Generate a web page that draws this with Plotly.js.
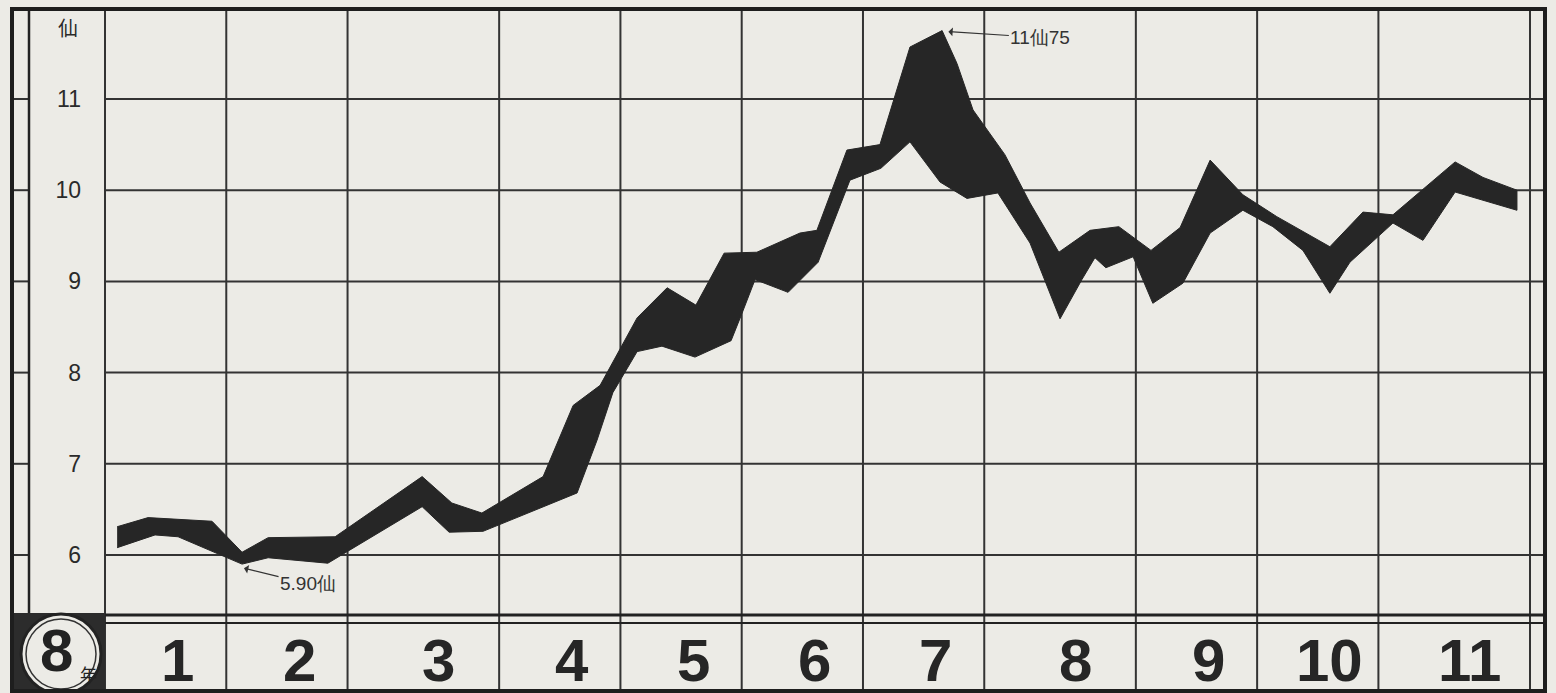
<!DOCTYPE html>
<html>
<head>
<meta charset="utf-8">
<script src="https://cdn.plot.ly/plotly-3.0.1.min.js"></script>
<style>
html,body{margin:0;padding:0;background:#ecebe6;}
#chart{width:1556px;height:693px;}
</style>
</head>
<body>
<div id="chart"></div>
<script>
// ---- data (x in weeks from start of month 1, y in 仙) ----
const months = ['1','2','3','4','5','6','7','8','9','10','11'];
const weeksPerMonth = [4,4,5,4,4,4,4,5,4,4,5];
const yTicks = [6,7,8,9,10,11];
const yTickText = ['6','7','8','9','10','11'];
const yUnit = '仙';
const yearLabel = '8';
const yearSuffix = '年';

const upperX = [0.40,1.42,3.53,4.52,5.38,7.59,10.46,11.44,12.43,14.45,15.44,16.33,17.55,18.54,19.49,20.42,21.50,22.92,23.48,24.47,25.56,26.55,27.61,28.10,28.63,29.68,30.51,31.46,32.49,33.44,34.50,35.46,36.45,37.53,38.65,40.40,41.49,42.48,44.53,45.45,46.57];
const upperY = [6.31,6.41,6.37,6.03,6.19,6.20,6.86,6.57,6.46,6.86,7.64,7.86,8.60,8.93,8.74,9.31,9.32,9.53,9.56,10.44,10.50,11.57,11.75,11.39,10.88,10.39,9.86,9.32,9.56,9.60,9.34,9.59,10.33,9.95,9.71,9.38,9.76,9.73,10.31,10.14,10.00];

const lowerX = [0.40,1.65,2.41,4.52,5.38,7.35,10.46,11.35,12.47,13.36,15.57,16.23,16.75,17.55,18.37,19.46,20.65,21.01,21.44,22.53,23.52,24.57,25.59,26.55,27.54,28.43,29.45,30.51,31.50,32.22,32.65,33.01,33.91,34.56,35.55,36.45,37.53,38.52,39.51,40.40,41.06,41.49,42.48,43.47,44.53,46.57];
const lowerY = [6.08,6.22,6.20,5.90,5.97,5.91,6.53,6.25,6.26,6.38,6.68,7.26,7.78,8.23,8.29,8.17,8.35,8.65,9.02,8.88,9.21,10.11,10.24,10.53,10.09,9.91,9.97,9.42,8.59,9.02,9.26,9.15,9.27,8.76,8.98,9.53,9.78,9.60,9.34,8.87,9.21,9.34,9.64,9.45,9.98,9.78];

const noteText = ['5.90仙','11仙75'];
const noteX = [4.52, 27.75];
const noteY = [5.86, 11.74];

// ---- geometry helpers (pixel -> paper) ----
const W = 1556, H = 693;
const L = 105, R = 1530, T = 10, B = 615;
const PX = p => (p - L) / (R - L);
const PY = p => (B - p) / (B - T);
const ink = '#262626';
const paper = '#ecebe6';

// month boundaries in weeks
const bounds = [0];
weeksPerMonth.forEach(w => bounds.push(bounds[bounds.length-1] + w));
const totalWeeks = bounds[bounds.length-1];
const labelPos = months.map((m,i) => bounds[i] + 0.6*weeksPerMonth[i]);

const bandTrace = {
  type: 'scatter', mode: 'lines',
  x: upperX.concat(lowerX.slice().reverse()),
  y: upperY.concat(lowerY.slice().reverse()),
  fill: 'toself', fillcolor: ink,
  line: {color: ink, width: 1},
  hoverinfo: 'skip', showlegend: false
};

const shapes = [];
// horizontal grid lines
yTicks.forEach(v => {
  shapes.push({type:'line', layer:'below', xref:'paper', yref:'y', x0:0, x1:PX(1545), y0:v, y1:v, line:{color:'#333', width:2}});
  shapes.push({type:'line', layer:'above', xref:'paper', yref:'y', x0:PX(12), x1:PX(29), y0:v, y1:v, line:{color:'#333', width:2}});
});
// vertical grid lines (month boundaries), through the label row
bounds.forEach(b => {
  shapes.push({type:'line', layer:'below', xref:'paper', yref:'paper', x0:b/totalWeeks, x1:b/totalWeeks, y0:PY(690), y1:1, line:{color:'#333', width:2}});
});
// bottom-left dark cell
shapes.push({type:'rect', layer:'above', xref:'paper', yref:'paper', x0:PX(12), x1:PX(105), y0:PY(691), y1:PY(613), fillcolor:'#2c2c2c', line:{width:0}});
// circle
shapes.push({type:'circle', layer:'above', xref:'paper', yref:'paper', x0:PX(21), x1:PX(101), y0:PY(694), y1:PY(614), fillcolor:paper, line:{color:'#222', width:3}});
shapes.push({type:'circle', layer:'above', xref:'paper', yref:'paper', x0:PX(26), x1:PX(96), y0:PY(689), y1:PY(619), fillcolor:'rgba(0,0,0,0)', line:{color:'#333', width:1.5}});
// inner left column line
shapes.push({type:'line', layer:'above', xref:'paper', yref:'paper', x0:PX(29), x1:PX(29), y0:PY(613), y1:PY(9), line:{color:'#222', width:2.5}});
// double line at bottom
shapes.push({type:'line', layer:'above', xref:'paper', yref:'paper', x0:0, x1:PX(1545), y0:PY(615), y1:PY(615), line:{color:'#222', width:3}});
shapes.push({type:'line', layer:'above', xref:'paper', yref:'paper', x0:0, x1:PX(1545), y0:PY(623), y1:PY(623), line:{color:'#222', width:2}});
// outer frame
shapes.push({type:'rect', layer:'above', xref:'paper', yref:'paper', x0:PX(12), x1:PX(1545), y0:PY(691), y1:PY(9), line:{color:'#1e1e1e', width:4}});

const annotations = [];
annotations.push({xref:'paper', yref:'paper', x:PX(68), y:PY(28), xanchor:'center', yanchor:'middle', text:yUnit, showarrow:false,
  font:{family:'Noto Sans CJK JP', size:20, color:'#2a2a2a'}});
months.forEach((m,i) => {
  annotations.push({xref:'x', yref:'paper', x:labelPos[i], y:PY(660), xanchor:'center', yanchor:'middle', text:'<b>'+m+'</b>', showarrow:false,
    font:{family:'Liberation Sans, Arial', size:60, color:ink}});
});
annotations.push({xref:'paper', yref:'paper', x:PX(56), y:PY(650), xanchor:'center', yanchor:'middle', text:'<b>'+yearLabel+'</b>', showarrow:false,
  font:{family:'Liberation Sans', size:60, color:'#222'}});
annotations.push({xref:'paper', yref:'paper', x:PX(88), y:PY(673), xanchor:'center', yanchor:'middle', text:yearSuffix, showarrow:false,
  font:{family:'Noto Sans CJK JP', size:17, color:'#222'}});
// notes with arrows
annotations.push({xref:'x', yref:'y', x:noteX[0], y:noteY[0], text:noteText[0], showarrow:true,
  ax:66, ay:16, arrowhead:1, arrowsize:1.2, arrowwidth:1.2, arrowcolor:'#333', standoff:2,
  font:{family:'Liberation Sans', size:19, color:'#333'}});
annotations.push({xref:'x', yref:'y', x:noteX[1], y:noteY[1], text:noteText[1], showarrow:true,
  ax:94, ay:6, arrowhead:1, arrowsize:1.2, arrowwidth:1.2, arrowcolor:'#333', standoff:2,
  font:{family:'Liberation Sans', size:19, color:'#333'}});

const layout = {
  width: W, height: H,
  margin: {l: L, r: W - R, t: T, b: H - B},
  paper_bgcolor: paper, plot_bgcolor: 'rgba(0,0,0,0)',
  showlegend: false,
  xaxis: {range:[0,totalWeeks], showgrid:false, zeroline:false, showticklabels:false, ticks:'', showline:false, fixedrange:true},
  yaxis: {range:[6 - (B-555)/91.2, 11 + (99-T)/91.2], tickvals:yTicks, ticktext:yTickText, showgrid:false, zeroline:false,
    ticks:'', showline:false, ticklabelstandoff:23, fixedrange:true,
    tickfont:{family:'Liberation Sans', size:23, color:'#2a2a2a'}},
  shapes: shapes,
  annotations: annotations
};

Plotly.newPlot('chart', [bandTrace], layout, {displayModeBar:false, staticPlot:true});
</script>
</body>
</html>
